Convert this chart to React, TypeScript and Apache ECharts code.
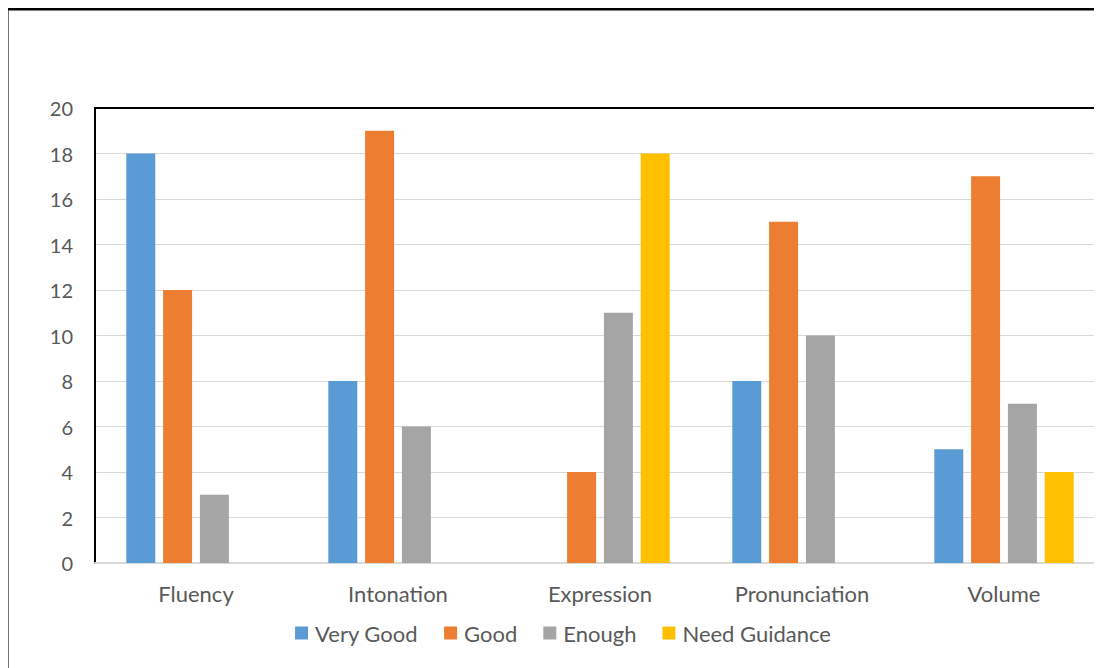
import React, { useEffect, useRef } from "react";
import * as echarts from "echarts";

const categories = ["Fluency", "Intonation", "Expression", "Pronunciation", "Volume"];
const veryGood = [18, 8, 0, 8, 5];
const good = [12, 19, 4, 15, 17];
const enough = [3, 6, 11, 10, 7];
const needGuidance = [0, 0, 18, 0, 4];
const seriesNames = ["Very Good", "Good", "Enough", "Need Guidance"];
const colors = ["#5B9BD5", "#ED7D31", "#A5A5A5", "#FFC000"];

const FONT = "Lato";

export default function App() {
  const ref = useRef<HTMLDivElement>(null);
  useEffect(() => {
    document.documentElement.style.overflow = "hidden";
    document.body.style.overflow = "hidden";
    if (!ref.current) return;
    const chart = echarts.init(ref.current, null, { renderer: "svg" });
    const data = [veryGood, good, enough, needGuidance];
    chart.setOption({
      animation: false,
      color: colors,
      textStyle: { fontFamily: FONT },
      graphic: [
        { type: "line", shape: { x1: 1.3, y1: 0, x2: 1.3, y2: 700 }, style: { stroke: "#000", lineWidth: 2.5 } },
        { type: "line", shape: { x1: 0, y1: 1.3, x2: 1200, y2: 1.3 }, style: { stroke: "#000", lineWidth: 2.5 } },
      ],
      grid: { left: 89, right: 15, top: 100, bottom: 115, containLabel: false },
      legend: {
        left: "center",
        bottom: 29,
        itemWidth: 13,
        itemHeight: 13,
        itemGap: 26,
        icon: "rect",
        textStyle: { fontFamily: FONT, fontSize: 22, color: "#595959", padding: [0, 0, 0, 2] },
        data: seriesNames,
      },
      xAxis: [
        {
          type: "category",
          data: categories,
          axisLine: { lineStyle: { color: "#D9D9D9", width: 2 } },
          axisTick: { show: false },
          axisLabel: { fontFamily: FONT, fontSize: 22, color: "#595959", margin: 19 },
        },
        {
          type: "category",
          data: categories,
          position: "top",
          axisLine: { lineStyle: { color: "#000", width: 2 } },
          axisTick: { show: false },
          axisLabel: { show: false },
        },
      ],
      yAxis: {
        type: "value",
        min: 0,
        max: 20,
        interval: 2,
        axisLine: { show: true, lineStyle: { color: "#000", width: 2 } },
        axisTick: { show: false },
        splitLine: { lineStyle: { color: "#D9D9D9", width: 1 } },
        axisLabel: { fontFamily: FONT, fontSize: 20, color: "#595959", margin: 22 },
      },
      series: seriesNames.map((name, i) => ({
        name,
        type: "bar",
        data: data[i],
        barGap: "27%",
        barCategoryGap: "31%",
        itemStyle: { color: colors[i] },
      })),
    });
    return () => chart.dispose();
  }, []);
  return (
    <div style={{ width: 1094, height: 660, overflow: "hidden", position: "relative" }}>
      <div ref={ref} style={{ position: "absolute", left: -2, top: 0, width: 1114, height: 670 }} />
    </div>
  );
}
